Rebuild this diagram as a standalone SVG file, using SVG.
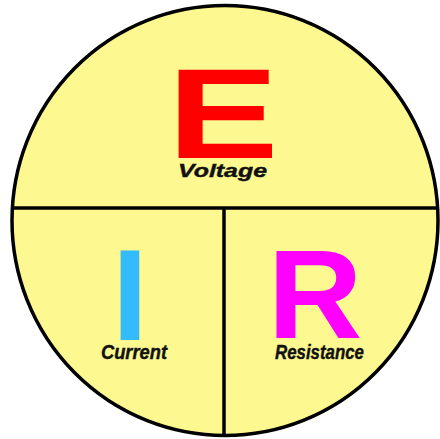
<svg xmlns="http://www.w3.org/2000/svg" width="440" height="439" viewBox="0 0 440 439">
<style>
.line{stroke:#000;stroke-width:3.5;fill:none}
.disc{stroke:#000;stroke-width:3.5;fill:#FDF88F}
.big{font-family:"Liberation Sans",Arial,sans-serif;font-weight:bold;text-anchor:middle}
.lbl{font-family:"Liberation Sans",Arial,sans-serif;font-weight:bold;font-style:italic;fill:#111;stroke:#111;stroke-width:0.4;text-anchor:middle}
</style>
<rect width="440" height="439" fill="#fff"/>
<g id="circle">
<ellipse class="disc" cx="225" cy="220.5" rx="213" ry="215"/>
</g>
<g id="connectors">
<line class="line" x1="12" y1="208" x2="438" y2="208"/>
<line class="line" x1="224" y1="208" x2="224" y2="435"/>
</g>
<g id="voltage">
<text class="big" transform="translate(223,158) scale(1.3,1)" font-size="128" fill="#FF0000">E</text>
<text class="lbl" x="222.5" y="177" font-size="18" textLength="89" lengthAdjust="spacingAndGlyphs">Voltage</text>
</g>
<g id="current">
<text class="big" x="130" y="340" font-size="129" fill="#33BBFF">I</text>
<text class="lbl" x="134" y="359" font-size="20" textLength="66" lengthAdjust="spacingAndGlyphs">Current</text>
</g>
<g id="resistance">
<text class="big" transform="translate(315,338) scale(1.04,1)" font-size="126" fill="#FF00FF">R</text>
<text class="lbl" x="319.5" y="359" font-size="20" textLength="89" lengthAdjust="spacingAndGlyphs">Resistance</text>
</g>
</svg>
